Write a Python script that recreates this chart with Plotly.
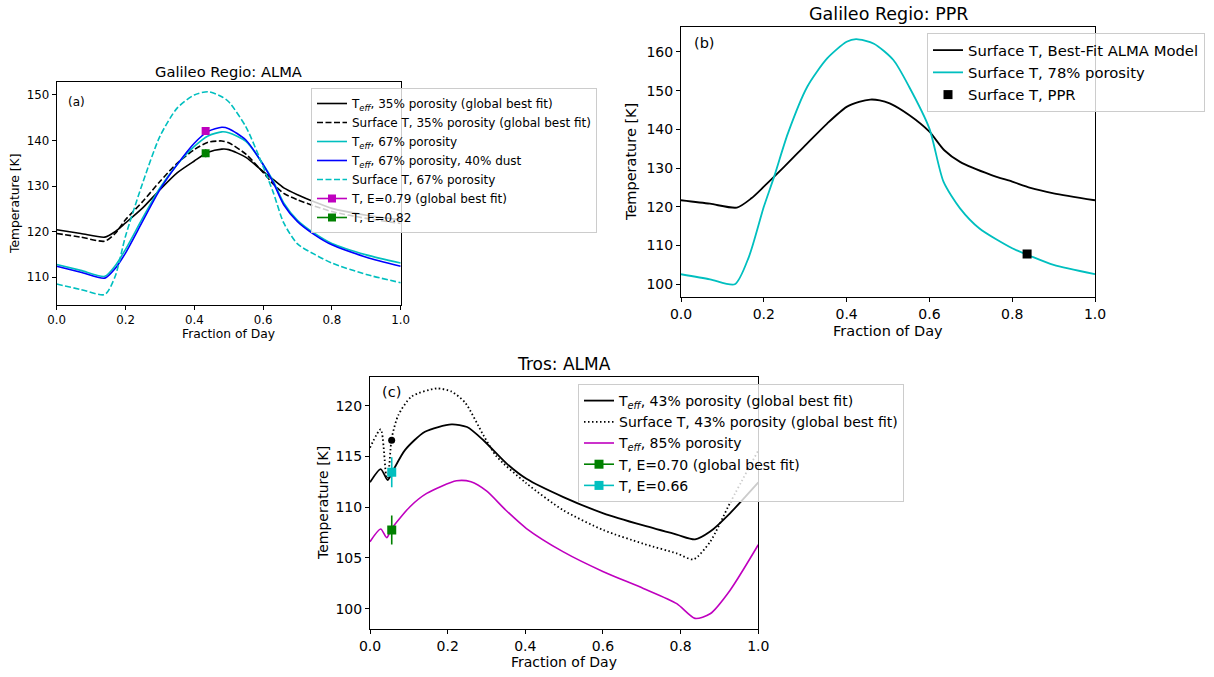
import plotly.graph_objects as go

W, H = 1214, 677
FONT = "DejaVu Sans"
BLACK, CYAN, BLUE, MAG, GREEN = "#000000", "#00bfbf", "#0000ff", "#bf00bf", "#008000"

# ---------------- Panel (a): Galileo Regio ALMA ----------------
xa = [0.0, 0.07, 0.14, 0.17, 0.2, 0.25, 0.3, 0.35, 0.4, 0.44, 0.48, 0.5, 0.55, 0.6, 0.63, 0.66, 0.7, 0.75, 0.8, 0.9, 1.0]
a_teff35 = [120.4, 119.6, 118.8, 120.0, 121.9, 125.2, 129.2, 132.9, 135.5, 137.4, 138.1, 138.0, 136.3, 133.2, 131.4, 129.6, 128.1, 126.5, 125.1, 123.6, 122.6]
a_surf35 = [119.6, 118.8, 117.9, 119.6, 122.6, 126.6, 131.0, 135.0, 138.0, 139.6, 139.9, 139.5, 137.0, 133.0, 130.4, 128.4, 127.0, 125.6, 124.4, 122.9, 121.8]
a_teff67 = [112.8, 111.5, 110.2, 112.5, 116.1, 123.0, 129.6, 134.7, 138.7, 141.0, 141.9, 141.7, 139.8, 134.8, 131.0, 126.3, 122.5, 119.6, 117.4, 114.9, 113.1]
a_teff67d = [112.4, 111.1, 109.8, 111.9, 115.3, 122.3, 129.2, 134.7, 139.4, 142.0, 142.9, 142.6, 140.1, 134.7, 130.7, 125.9, 122.2, 119.3, 117.1, 114.4, 112.4]
a_surf67 = [108.5, 107.3, 106.2, 110.2, 119.0, 130.7, 140.9, 147.1, 150.0, 150.7, 149.6, 148.5, 143.0, 134.3, 128.5, 121.9, 117.3, 115.0, 113.1, 110.6, 108.8]
a_pt_x = [0.433]
a_pt_e79 = [142.1]
a_pt_e79_err = [0.8]
a_pt_e82 = [137.2]
a_pt_e82_err = [0.9]

# ---------------- Panel (b): Galileo Regio PPR ----------------
xb_black = [0.0, 0.07, 0.135, 0.17, 0.2, 0.249, 0.305, 0.353, 0.4, 0.43, 0.457, 0.48, 0.504, 0.551, 0.6, 0.636, 0.674, 0.75, 0.8, 0.844, 0.9, 1.0]
b_bestfit = [121.7, 120.8, 119.8, 122.2, 125.2, 130.3, 136.4, 141.5, 145.8, 147.1, 147.7, 147.5, 146.7, 143.7, 139.4, 134.6, 131.6, 128.2, 126.5, 124.9, 123.5, 121.7]
xb_cyan = [0.0, 0.07, 0.13, 0.164, 0.2, 0.225, 0.258, 0.305, 0.353, 0.4, 0.423, 0.466, 0.513, 0.551, 0.6, 0.634, 0.674, 0.721, 0.8, 0.844, 0.9, 1.0]
b_por78 = [102.6, 101.3, 100.0, 107.1, 120.0, 127.8, 138.9, 151.0, 158.3, 162.6, 163.3, 162.1, 157.9, 151.0, 140.2, 126.5, 119.6, 114.4, 109.3, 107.3, 105.0, 102.6]
b_ppr_x = [0.836]
b_ppr_t = [107.8]

# ---------------- Panel (c): Tros ALMA ----------------
xc_black = [0.0, 0.0275, 0.0455, 0.06, 0.09, 0.1416, 0.21, 0.25, 0.292, 0.352, 0.403, 0.498, 0.601, 0.704, 0.79, 0.837, 0.876, 0.927, 1.0]
c_teff43 = [112.45, 113.76, 112.68, 113.66, 115.63, 117.44, 118.16, 117.9, 116.6, 114.3, 112.8, 111.0, 109.4, 108.2, 107.3, 106.83, 107.6, 109.4, 112.45]
xc_dot = [0.0, 0.0275, 0.043, 0.0455, 0.056, 0.073, 0.107, 0.172, 0.21, 0.245, 0.292, 0.326, 0.403, 0.498, 0.601, 0.704, 0.79, 0.833, 0.876, 0.927, 1.0]
c_surf43 = [115.86, 117.67, 112.84, 112.84, 116.8, 119.08, 120.9, 121.7, 121.4, 120.3, 117.1, 115.0, 112.35, 109.7, 107.75, 106.4, 105.45, 104.86, 106.6, 110.4, 115.6]
xc_mag = [0.0, 0.0275, 0.043, 0.056, 0.103, 0.146, 0.223, 0.26, 0.3, 0.35, 0.403, 0.498, 0.601, 0.704, 0.79, 0.837, 0.876, 0.927, 1.0]
c_teff85 = [106.6, 107.85, 107.0, 107.9, 110.05, 111.36, 112.6, 112.5, 111.6, 109.7, 107.9, 105.6, 103.65, 102.0, 100.5, 99.05, 99.5, 101.8, 106.3]
c_pt_x = [0.056]
c_pt_e70 = [107.75]
c_pt_e70_err = [1.43]
c_pt_e66 = [113.45]
c_pt_e66_err = [1.48]
c_dot_x = [0.0558]
c_dot_t = [116.6]

TEFF = "T<sub><i>eff</i></sub>"

fig = go.Figure()

def line(x, y, color, name, xa_, ya_, leg, dash="solid", w=1.6, show=True, shape="spline"):
    fig.add_trace(go.Scatter(x=x, y=y, mode="lines", name=name, xaxis=xa_, yaxis=ya_, legend=leg,
                             showlegend=show,
                             line=dict(color=color, width=w, dash=dash, shape=shape, smoothing=0.7)))

def errpt(x, y, err, color, name, xa_, ya_, leg, size=8):
    fig.add_trace(go.Scatter(x=x, y=y, mode="lines+markers", name=name, xaxis=xa_, yaxis=ya_, legend=leg,
                             marker=dict(symbol="square", size=size, color=color),
                             line=dict(color=color, width=1.6),
                             error_y=dict(type="data", array=err, color=color, thickness=1.6, width=0)))

DASH = "6px,2.5px"
DOT = "1.5px,2.5px"

# Panel (a)
line(xa, a_teff35, BLACK, TEFF + ", 35% porosity (global best fit)", "x", "y", "legend")
line(xa, a_surf35, BLACK, "Surface T, 35% porosity (global best fit)", "x", "y", "legend", dash=DASH)
line(xa, a_teff67, CYAN, TEFF + ", 67% porosity", "x", "y", "legend")
line(xa, a_teff67d, BLUE, TEFF + ", 67% porosity, 40% dust", "x", "y", "legend")
line(xa, a_surf67, CYAN, "Surface T, 67% porosity", "x", "y", "legend", dash=DASH)
errpt(a_pt_x, a_pt_e79, a_pt_e79_err, MAG, "T, E=0.79 (global best fit)", "x", "y", "legend", size=8)
errpt(a_pt_x, a_pt_e82, a_pt_e82_err, GREEN, "T, E=0.82", "x", "y", "legend", size=8)

# Panel (b)
line(xb_black, b_bestfit, BLACK, "Surface T, Best-Fit ALMA Model", "x2", "y2", "legend2", w=1.8)
line(xb_cyan, b_por78, CYAN, "Surface T, 78% porosity", "x2", "y2", "legend2", w=1.8)
fig.add_trace(go.Scatter(x=b_ppr_x, y=b_ppr_t, mode="markers", name="Surface T, PPR", xaxis="x2", yaxis="y2",
                         legend="legend2", marker=dict(symbol="square", size=9, color=BLACK)))

# Panel (c)
line(xc_black, c_teff43, BLACK, TEFF + ", 43% porosity (global best fit)", "x3", "y3", "legend3", w=1.8)
line(xc_dot, c_surf43, BLACK, "Surface T, 43% porosity (global best fit)", "x3", "y3", "legend3", dash=DOT, w=1.8)
line(xc_mag, c_teff85, MAG, TEFF + ", 85% porosity", "x3", "y3", "legend3", w=1.6)
errpt(c_pt_x, c_pt_e70, c_pt_e70_err, GREEN, "T, E=0.70 (global best fit)", "x3", "y3", "legend3", size=9)
errpt(c_pt_x, c_pt_e66, c_pt_e66_err, CYAN, "T, E=0.66", "x3", "y3", "legend3", size=9)
fig.add_trace(go.Scatter(x=c_dot_x, y=c_dot_t, mode="markers", showlegend=False, xaxis="x3", yaxis="y3",
                         marker=dict(symbol="circle", size=7, color=BLACK)))

def px_x(p):
    return p / W

def px_y(p):
    return 1 - p / H

def axis_common(fs):
    return dict(showline=True, linecolor="#000000", linewidth=1, mirror=True, ticks="outside",
                ticklen=4, tickwidth=1, tickcolor="#000000", showgrid=False, zeroline=False,
                automargin=False,
                tickfont=dict(family=FONT, size=fs, color="#000000"))

xticks = [0, 0.2, 0.4, 0.6, 0.8, 1.0]
xlabels = ["0.0", "0.2", "0.4", "0.6", "0.8", "1.0"]

fig.update_layout(
    width=W, height=H, margin=dict(l=0, r=0, t=0, b=0, autoexpand=False),
    paper_bgcolor="white", plot_bgcolor="white",
    font=dict(family=FONT, color="#000000"),
    xaxis=dict(domain=[px_x(56.7), px_x(400.7)], range=[0, 1], anchor="y",
               tickvals=xticks, ticktext=xlabels, **axis_common(11.8)),
    yaxis=dict(domain=[px_y(305), px_y(81.7)], range=[103.9, 152.9], anchor="x",
               tickvals=[110, 120, 130, 140, 150], **axis_common(11.8)),
    xaxis2=dict(domain=[px_x(681), px_x(1095)], range=[0, 1], anchor="y2",
                tickvals=xticks, ticktext=xlabels, **axis_common(14)),
    yaxis2=dict(domain=[px_y(296.7), px_y(26.7)], range=[96.8, 166.5], anchor="x2",
                tickvals=[100, 110, 120, 130, 140, 150, 160], **axis_common(14)),
    xaxis3=dict(domain=[px_x(370), px_x(758.3)], range=[0, 1], anchor="y3",
                tickvals=xticks, ticktext=xlabels, **axis_common(14)),
    yaxis3=dict(domain=[px_y(629.3), px_y(377.3)], range=[97.97, 122.8], anchor="x3",
                tickvals=[100, 105, 110, 115, 120], **axis_common(14)),
    legend=dict(x=px_x(311), y=px_y(88), xanchor="left", yanchor="top",
                bgcolor="rgba(255,255,255,0.8)", bordercolor="#cccccc", borderwidth=1,
                font=dict(family=FONT, size=12), tracegroupgap=0, itemwidth=30),
    legend2=dict(x=px_x(927), y=px_y(33), xanchor="left", yanchor="top",
                 bgcolor="rgba(255,255,255,0.8)", bordercolor="#cccccc", borderwidth=1,
                 font=dict(family=FONT, size=14.8), tracegroupgap=0, itemwidth=30),
    legend3=dict(x=px_x(578), y=px_y(384), xanchor="left", yanchor="top",
                 bgcolor="rgba(255,255,255,0.8)", bordercolor="#cccccc", borderwidth=1,
                 font=dict(family=FONT, size=14), tracegroupgap=0, itemwidth=30),
    showlegend=True,
)

ann = []
def text(x, y, s, size, angle=0):
    ann.append(dict(x=px_x(x), y=px_y(y), xref="paper", yref="paper", text=s, showarrow=False,
                    xanchor="center", yanchor="middle", textangle=angle,
                    font=dict(family=FONT, size=size, color="#000000")))

# titles
text(228, 71, "Galileo Regio: ALMA", 14.7)
text(888, 14, "Galileo Regio: PPR", 17.5)
text(564, 364, "Tros: ALMA", 17)
# axis titles
text(228, 334, "Fraction of Day", 12.3)
text(15, 204, "Temperature [K]", 12.3, -90)
text(888, 331, "Fraction of Day", 14.5)
text(631, 162, "Temperature [K]", 14.5, -90)
text(564, 662, "Fraction of Day", 14)
text(323, 503, "Temperature [K]", 14, -90)
# panel labels
text(76, 102, "(a)", 12)
text(704, 43, "(b)", 14.5)
text(391, 392, "(c)", 14.5)

fig.update_layout(annotations=ann)
fig.write_html("out.html", config={"displayModeBar": False},
               post_script="document.body.style.margin='0px';document.body.style.overflow='hidden';")
